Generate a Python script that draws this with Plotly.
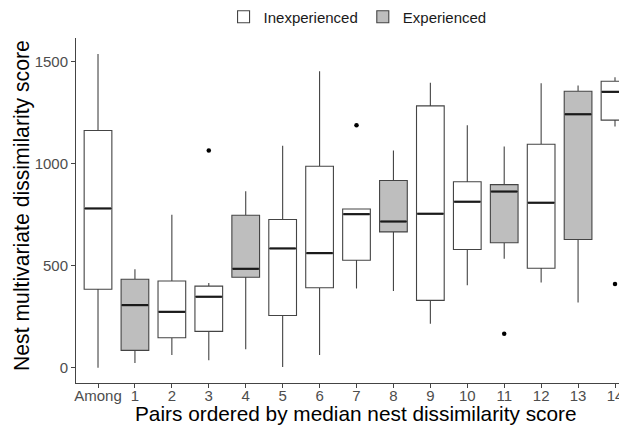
import plotly.graph_objects as go

categories = ["Among", "1", "2", "3", "4", "5", "6", "7", "8", "9", "10", "11", "12", "13", "14"]
group = ["Inexperienced", "Experienced", "Inexperienced", "Inexperienced", "Experienced",
         "Inexperienced", "Inexperienced", "Inexperienced", "Experienced", "Inexperienced",
         "Inexperienced", "Experienced", "Inexperienced", "Experienced", "Inexperienced"]
lower_whisker = [0, 23, 62, 36, 91, 3, 62, 389, 376, 216, 405, 534, 418, 320, 1183]
q1 = [385, 85, 147, 178, 444, 256, 392, 527, 666, 330, 580, 613, 488, 629, 1214]
median = [781, 307, 274, 348, 485, 585, 562, 753, 717, 755, 814, 864, 809, 1243, 1353]
q3 = [1163, 434, 425, 400, 748, 727, 988, 778, 918, 1284, 912, 898, 1096, 1356, 1405]
upper_whisker = [1539, 483, 750, 415, 866, 1088, 1454, 778, 1065, 1398, 1189, 1085, 1395, 1384, 1425]
outlier_cat = ["3", "7", "11", "14"]
outlier_val = [1065, 1189, 167, 410]

fills = {"Inexperienced": "#FFFFFF", "Experienced": "#BEBEBE"}
BOX_W = 0.75

fig = go.Figure()
for g in ["Inexperienced", "Experienced"]:
    idx = [i for i, gg in enumerate(group) if gg == g]
    fig.add_trace(go.Box(
        name=g,
        x=[i for i in idx],
        q1=[q1[i] for i in idx],
        median=[median[i] for i in idx],
        q3=[q3[i] for i in idx],
        lowerfence=[lower_whisker[i] for i in idx],
        upperfence=[upper_whisker[i] for i in idx],
        fillcolor=fills[g],
        line=dict(color="#444444", width=1.1),
        width=BOX_W,
        whiskerwidth=0,
        boxpoints=False,
        hoverinfo="skip",
    ))

# thicker median lines (ggplot fatten)
for i, m in enumerate(median):
    fig.add_trace(go.Scatter(
        x=[i - BOX_W / 2 + 0.02, i + BOX_W / 2 - 0.02], y=[m, m], mode="lines",
        line=dict(color="#1a1a1a", width=2.2), showlegend=False, hoverinfo="skip"))

fig.add_trace(go.Scatter(
    x=[categories.index(c) for c in outlier_cat], y=outlier_val, mode="markers",
    marker=dict(color="black", size=4.5), showlegend=False, hoverinfo="skip"))

# page has an 8px default body margin; figure is sized/placed to compensate
W, H = 619, 418
L, T, B = 68, 30, 43
pw, ph = W - L, H - T - B
bottom = H - B

fig.update_layout(
    width=W, height=H,
    margin=dict(l=L, r=0, t=T, b=B, autoexpand=False),
    plot_bgcolor="white", paper_bgcolor="white",
    font=dict(family="Liberation Sans, Arial, sans-serif", color="black"),
    boxmode="overlay",
    showlegend=True,
    legend=dict(orientation="h", x=0.511, xanchor="center", y=(bottom - 9) / ph, yanchor="middle",
                font=dict(size=15, color="#1a1a1a"), itemwidth=30, bgcolor="rgba(0,0,0,0)"),
    xaxis=dict(
        range=[-0.596, 14.325], tickmode="array",
        tickvals=list(range(len(categories))), ticktext=categories,
        showgrid=False, zeroline=False, showline=True, linecolor="#444444", linewidth=1,
        ticks="outside", ticklen=4, tickcolor="#444444", ticklabelstandoff=-5,
        tickfont=dict(size=15, color="#4d4d4d"), automargin=False,
    ),
    yaxis=dict(
        range=[-75, 1617], tickvals=[0, 500, 1000, 1500],
        showgrid=False, zeroline=False, showline=True, linecolor="#444444", linewidth=1,
        ticks="outside", ticklen=4, tickcolor="#444444",
        tickfont=dict(size=15, color="#4d4d4d"), automargin=False,
    ),
    annotations=[
        dict(text="Pairs ordered by median nest dissimilarity score", xref="paper", yref="paper",
             x=(348 - L) / pw, y=-(405 - bottom) / ph, xanchor="center", yanchor="middle",
             showarrow=False, font=dict(size=20.8, color="black")),
        dict(text="Nest multivariate dissimilarity score", xref="paper", yref="paper",
             x=-(L - 14) / pw, y=(bottom - 198) / ph, xanchor="center", yanchor="middle",
             textangle=-90, showarrow=False, font=dict(size=21.2, color="black")),
    ],
)

fig.write_html("out.html")
